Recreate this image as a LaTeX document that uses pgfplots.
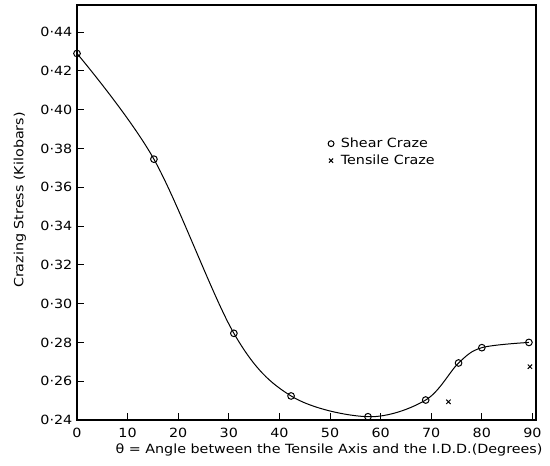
\documentclass[border=0pt]{standalone}
\usepackage{pgfplots}
\pgfplotsset{compat=1.18}
\usepackage{fontspec}
\setmainfont{DejaVu Sans}[FakeStretch=1.13]

\begin{document}
\begin{tikzpicture}
\begin{axis}[
    scale only axis,
    width=344.25pt, height=311.25pt,
    xmin=0, xmax=90.7,
    ymin=0.24, ymax=0.454,
    axis line style={line width=0.8pt},
    xtick={0,10,...,90},
    xticklabels={0,10,20,30,40,50,60,70,80,90},
    ytick={0.24,0.26,...,0.44},
    yticklabels={0·24,0·26,0·28,0·30,0·32,0·34,0·36,0·38,0·40,0·42,0·44},
    xtick pos=bottom, ytick pos=left,
    tick align=inside,
    major tick length=5pt,
    tick style={line width=0.8pt, black},
    ticklabel style={font=\fontsize{9.5}{11}\selectfont},
    xticklabel style={yshift=-2.5pt},
    label style={font=\fontsize{9.5}{11}\selectfont},
    xlabel={θ = Angle between the Tensile Axis and the I.D.D.(Degrees)},
    ylabel={Crazing Stress (Kilobars)},
    xlabel style={at={(axis description cs:0.549,0)}, anchor=base, yshift=-25pt},
    ylabel style={at={(axis description cs:0,0.53)}, anchor=center, yshift=42.75pt},
    legend style={draw=none, fill=none, at={(axis cs:49.2,0.387)}, anchor=north west,
        font=\fontsize{9.5}{11}\selectfont, row sep=0pt,
        inner sep=0pt, legend cell align=left},
    legend image code/.code={
        \path (0cm,0cm) (0.3cm,0cm);
        \draw[#1, mark size=2.2pt] plot coordinates {(0.12cm,0cm)};
    },
]
\addplot[black, line width=0.75pt, smooth, tension=0.55, forget plot] coordinates {
    (0,0.429) (15.2,0.3745) (31,0.2847) (42.3,0.2524) (57.5,0.2417)
    (68.9,0.2503) (75.4,0.2694) (80,0.2773) (89.3,0.2800)
};
\addplot[only marks, mark=o, mark size=2.5pt, mark options={line width=0.75pt, fill=white}, draw=black] coordinates {
    (0,0.429) (15.2,0.3745) (31,0.2847) (42.3,0.2524) (57.5,0.2417)
    (68.9,0.2503) (75.4,0.2694) (80,0.2773) (89.3,0.2800)
};
\addlegendentry{Shear Craze}
\addplot[only marks, mark=x, mark size=2.3pt, mark options={line width=0.75pt}, draw=black] coordinates {
    (73.4,0.2494) (89.5,0.2675)
};
\addlegendentry{Tensile Craze}
\end{axis}
\pgfresetboundingbox
\path ([xshift=-57.75pt,yshift=-33.75pt]current axis.south west)
    rectangle ([xshift=10.5pt,yshift=3.75pt]current axis.north east);
\end{tikzpicture}
\end{document}
